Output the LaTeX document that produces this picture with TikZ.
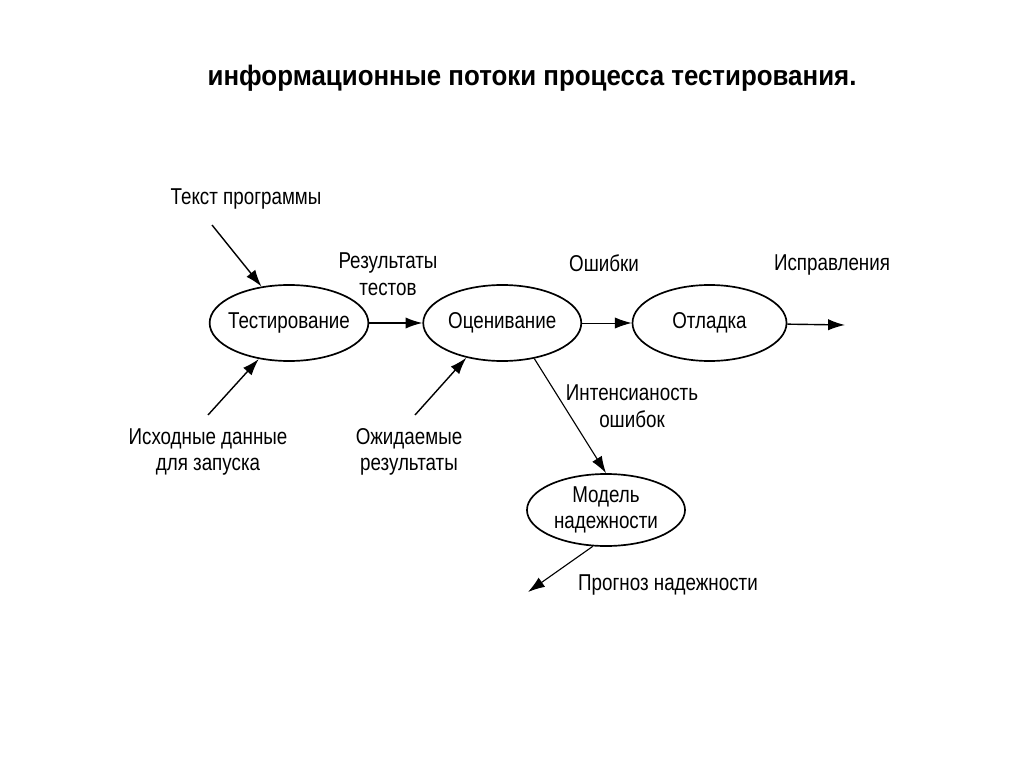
\documentclass[tikz,border=0pt]{standalone}
\usepackage{fontspec}
\setmainfont{Liberation Sans}
\newfontfamily\narrowfont[FakeStretch=0.82]{Liberation Sans}
\newfontfamily\titlefont[FakeStretch=0.92]{Liberation Sans}
\usetikzlibrary{positioning,arrows.meta,shapes.geometric}

\begin{document}
\begin{tikzpicture}[x=0.025cm,y=-0.025cm,>={Latex[length=12pt,width=8pt]},on grid,
  font=\narrowfont\fontsize{16.3}{19}\selectfont,
  proc/.style={ellipse,draw,line width=1.2pt,minimum width=3.95cm,minimum height=1.9cm,inner ysep=0pt,inner xsep=-0.12cm},
  lbl/.style={align=center,inner sep=0pt},
  flow/.style={->,line width=1pt}]
\useasboundingbox (0,0) rectangle (1024,767);
% title
\node[font=\titlefont\bfseries\fontsize{20}{24}\selectfont] (title) at (532,78) {информационные потоки процесса тестирования.};
% processes
\node[proc] (test) at (289,323) {Тестирование};
\node[proc,right=5.33cm of test] (eval) {Оценивание};
\node[proc,right=5.18cm of eval,minimum width=3.85cm] (debug) {Отладка};
\node[proc,align=center,minimum height=1.8cm] (model) at (606,510) {Модель\\надежности};
% labels
\node[lbl] (src) at (246,199) {Текст программы};
\node[lbl] (res) at (388,274) {Результаты\\тестов};
\node[lbl] (err) at (604,263) {Ошибки};
\node[lbl] (fix) at (832,265) {Исправления};
\node[lbl] (inp) at (208,452) {Исходные данные\\для запуска};
\node[lbl] (exp) at (409,452) {Ожидаемые\\результаты};
\node[lbl] (rate) at (632,406) {Интенсианость\\ошибок};
\node[lbl] (fcst) at (668,585) {Прогноз надежности};
% free ends
\coordinate (srcend) at (212,225);
\coordinate (inpend) at (208,415);
\coordinate (expend) at (415,415);
\coordinate (fixend) at (845,325);
\coordinate (fcstend) at (528,592);
% connectors
\draw[flow] (srcend) -- (test.127);
\draw[flow] (inpend) -- (test.-130);
\draw[flow] (test) -- (eval);
\draw[flow] (expend) -- (eval.-136);
\draw[->,line width=0.6pt] (eval) -- (debug);
\draw[flow] (debug) -- (fixend);
\draw[flow,line width=0.8pt] (eval.-48) -- (model.north);
\draw[flow,line width=0.8pt] (model.-110) -- (fcstend);
\end{tikzpicture}
\end{document}
